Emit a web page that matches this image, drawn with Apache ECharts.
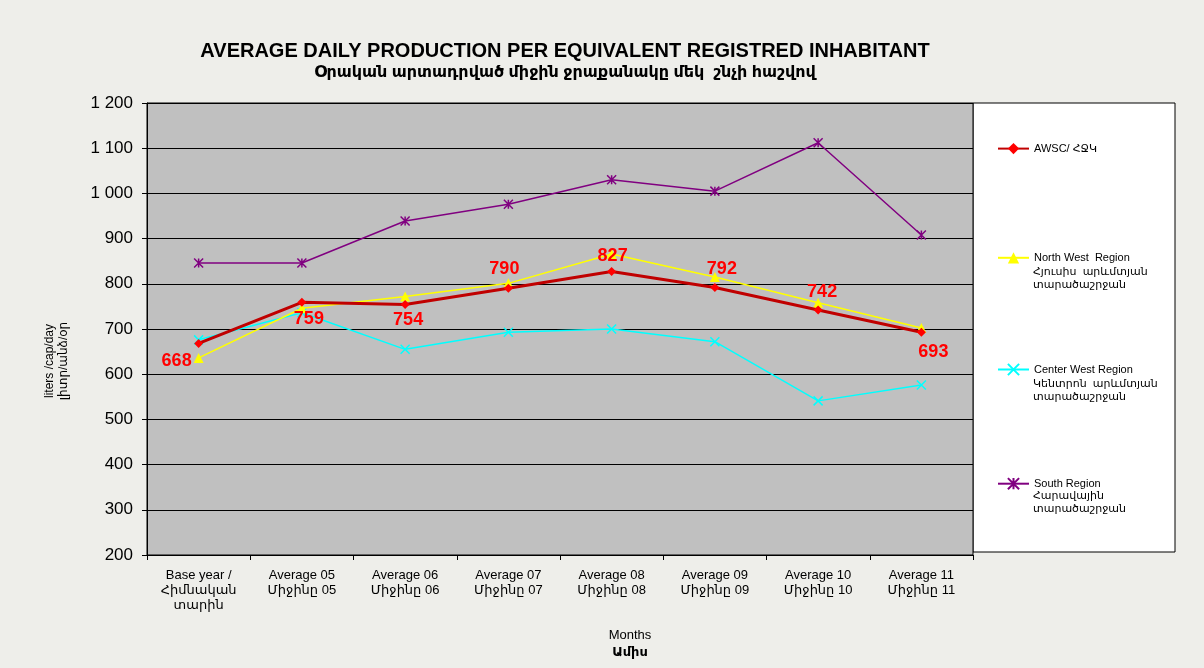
<!DOCTYPE html>
<html><head><meta charset="utf-8">
<script src="https://cdn.jsdelivr.net/npm/echarts@6/dist/echarts.min.js"></script>
<style>html,body{margin:0;padding:0;background:#eeeeea;}#c{width:1204px;height:668px;}</style>
</head><body><div id="c"></div>
<script>
const categories = ['Base year /\nՀիմնական\nտարին','Average 05\nՄիջինը 05','Average 06\nՄիջինը 06','Average 07\nՄիջինը 07','Average 08\nՄիջինը 08','Average 09\nՄիջինը 09','Average 10\nՄիջինը 10','Average 11\nՄիջինը 11'];
const awsc = [668, 759, 754, 790, 827, 792, 742, 693];
const northWest = [636, 746, 772, 801, 866, 815, 758, 702];
const centerWest = [676, 736, 655, 693, 700, 672, 541, 576];
const south = [846, 846, 939, 976, 1030, 1005, 1112, 908];
const seriesNames = ['AWSC/ ՀՋԿ', 'North West  Region', 'Center West Region', 'South Region'];
const seriesSub = [[], ['Հյուսիս  արևմտյան', 'տարածաշրջան'], ['Կենտրոն  արևմտյան', 'տարածաշրջան'], ['Հարավային', 'տարածաշրջան']];
const yTicks = {min: 200, max: 1200, interval: 100};

const FONT = '"Liberation Sans", "DejaVu Sans", Arial, sans-serif';
const chart = echarts.init(document.getElementById('c'), null, {renderer: 'canvas'});

const labelPos = [
  {position: 'bottom', offset: [-22, 0], distance: 4},
  {position: 'bottom', offset: [7, 0], distance: 3},
  {position: 'bottom', offset: [3, 0], distance: 2},
  {position: 'top', offset: [-4, 0], distance: 6},
  {position: 'top', offset: [1, 0], distance: 2},
  {position: 'top', offset: [7, 0], distance: 5},
  {position: 'top', offset: [4, 0], distance: 4},
  {position: 'bottom', offset: [12, 0], distance: 6}
];
const awscData = awsc.map((v, i) => ({value: v, label: labelPos[i]}));

const xPath = 'path://M0,0L10,10M10,0L0,10';
const starPath = 'path://M0,0L10,10M10,0L0,10M5,0L5,10';

const legendTop = 138;
const legendGap = 112;
const graphics = [
  {type: 'rect', shape: {x: 973, y: 103, width: 202, height: 449}, style: {fill: '#ffffff', stroke: '#000', lineWidth: 1}, z: -1},
  {type: 'text', rotation: Math.PI / 2, x: 57, y: 361, style: {text: 'liters /cap/day\nլիտր/անձ/օր', font: '12px ' + FONT, fill: '#000', textAlign: 'center', textVerticalAlign: 'middle', lineHeight: 14}}
];
seriesSub.forEach((lines, i) => {
  lines.forEach((t, j) => {
    graphics.push({type: 'text', x: 1033, y: legendTop + i * legendGap + 16 + j * 13, style: {text: t, font: '11px ' + FONT, fill: '#000', textVerticalAlign: 'top'}});
  });
});

const option = {
  backgroundColor: '#eeeeea',
  animation: false,
  textStyle: {fontFamily: FONT},
  title: {
    text: 'AVERAGE DAILY PRODUCTION PER EQUIVALENT REGISTRED INHABITANT',
    subtext: 'Օրական արտադրված միջին ջրաքանակը մեկ  շնչի հաշվով',
    left: 560, top: 36, textAlign: 'center', itemGap: 4,
    textStyle: {fontSize: 20, fontWeight: 'bold', color: '#000', fontFamily: FONT},
    subtextStyle: {fontSize: 16, fontWeight: 'bold', color: '#000', fontFamily: FONT}
  },
  grid: {left: 147, right: 231, top: 103, bottom: 113, show: true, backgroundColor: '#c0c0c0', borderColor: '#000', borderWidth: 1},
  legend: {
    orient: 'vertical', left: 992, top: legendTop, itemGap: legendGap - 14, itemWidth: 31, itemHeight: 14,
    data: seriesNames,
    textStyle: {fontSize: 11, color: '#000', fontFamily: FONT}
  },
  xAxis: {
    type: 'category', data: categories, boundaryGap: true,
    axisLine: {lineStyle: {color: '#000', width: 1}},
    axisTick: {show: true, length: 5, lineStyle: {color: '#000'}},
    axisLabel: {color: '#000', fontSize: 13, lineHeight: 15, margin: 13, interval: 0, fontFamily: FONT},
    name: '{a|Months}\n{b|Ամիս}', nameLocation: 'middle', nameGap: 72,
    nameTextStyle: {padding: [0, 0, 0, 140], rich: {a: {fontSize: 13, color: '#000', fontFamily: FONT, lineHeight: 17, align: 'center'}, b: {fontSize: 13, fontWeight: 'bold', color: '#000', fontFamily: FONT, lineHeight: 17, align: 'center'}}}
  },
  yAxis: {
    type: 'value', min: yTicks.min, max: yTicks.max, interval: yTicks.interval,
    axisLine: {show: true, lineStyle: {color: '#000', width: 1}},
    axisTick: {show: true, length: 5, lineStyle: {color: '#000'}},
    axisLabel: {color: '#000', fontSize: 17, margin: 14, fontFamily: FONT, formatter: v => String(v).replace(/\B(?=(\d{3})+(?!\d))/g, ' ')},
    splitLine: {show: true, lineStyle: {color: '#000', width: 1}}
  },
  series: [
    {name: seriesNames[0], type: 'line', data: awscData, z: 5, symbol: 'diamond', symbolSize: 9,
      lineStyle: {color: '#c00000', width: 3}, itemStyle: {color: '#ff0000'},
      label: {show: true, color: '#ff0000', fontSize: 18, fontWeight: 'bold', fontFamily: FONT}},
    {name: seriesNames[1], type: 'line', data: northWest, z: 4, symbol: 'triangle', symbolSize: 10,
      lineStyle: {color: '#ffff00', width: 1.5}, itemStyle: {color: '#ffff00'}},
    {name: seriesNames[2], type: 'line', data: centerWest, z: 3, symbol: xPath, symbolSize: 9,
      lineStyle: {color: '#00ffff', width: 1.5}, itemStyle: {color: 'none', borderColor: '#00ffff', borderWidth: 1.5}},
    {name: seriesNames[3], type: 'line', data: south, z: 3, symbol: starPath, symbolSize: 9,
      lineStyle: {color: '#800080', width: 1.5}, itemStyle: {color: 'none', borderColor: '#800080', borderWidth: 1.5}}
  ],
  graphic: graphics
};
chart.setOption(option);
</script>
</body></html>
